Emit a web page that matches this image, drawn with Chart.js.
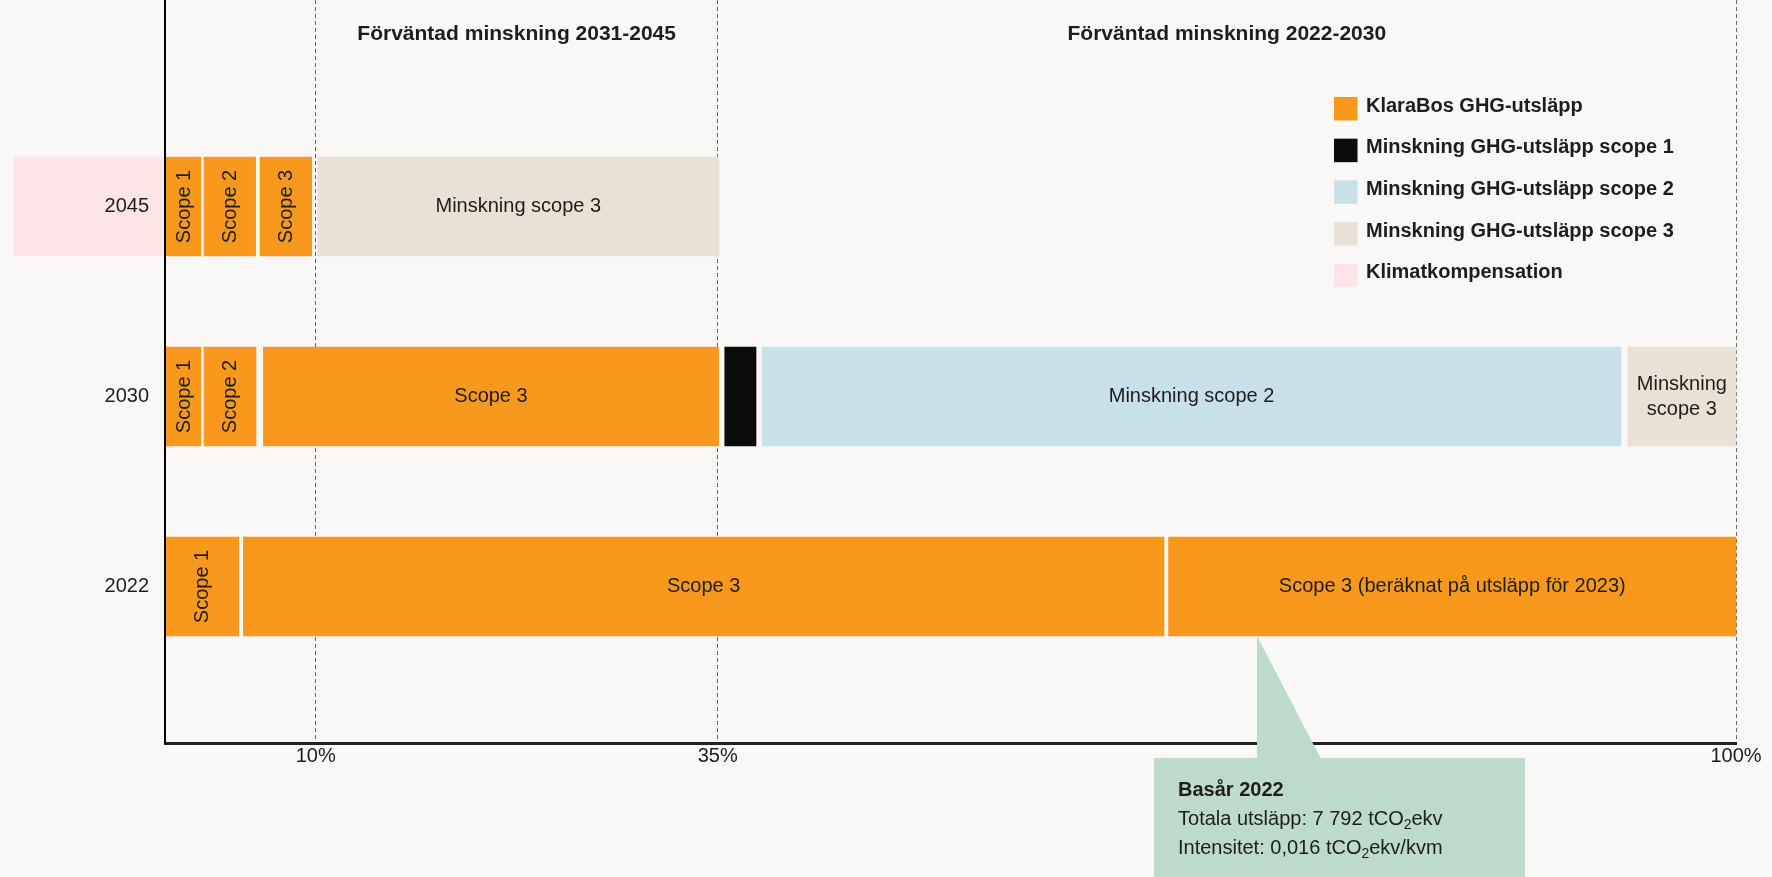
<!DOCTYPE html>
<html lang="sv">
<head>
<meta charset="utf-8">
<title>KlaraBo – minskning av GHG-utsläpp</title>
<script src="https://cdn.jsdelivr.net/npm/chart.js@4.4.1/dist/chart.umd.min.js"></script>
<style>
  html, body { margin: 0; padding: 0; background: #F9F8F6; }
  #wrap { width: 1772px; height: 877px; }
</style>
</head>
<body>
<div id="wrap"><canvas id="myChart" width="1772" height="877"></canvas></div>
<script>
// rows, top to bottom
const years = ['2045', '2030', '2022'];

// x axis ticks (schematic axis, the picture is not drawn to scale)
const tickValues = [9.59, 35.18, 100];
const tickLabels = ['10%', '35%', '100%'];
const periodTitles = ['Förväntad minskning 2031-2045', 'Förväntad minskning 2022-2030'];

// segments per row as [start, end], null = no segment in that row
const klaraScope1 = [[0, 2.29], [0, 2.29], [0, 4.70]];
const klaraScope2 = [[2.48, 5.77], [2.48, 5.79], null];
const klaraScope3 = [[6.05, 9.34], [6.26, 35.24], [4.99, 63.59]];
const klaraScope3b = [null, null, [63.88, 100]];
const minskScope1 = [null, [35.63, 37.62], null];
const minskScope2 = [null, [38.01, 92.68], null];
const minskScope3 = [[9.72, 35.26], [93.11, 100], null];
const kompensation = [[-9.61, -0.19], null, null];

// text inside the segments
const klaraScope1Text = ['Scope 1', 'Scope 1', 'Scope 1'];
const klaraScope2Text = ['Scope 2', 'Scope 2', ''];
const klaraScope3Text = ['Scope 3', 'Scope 3', 'Scope 3'];
const klaraScope3bText = ['', '', 'Scope 3 (beräknat på utsläpp för 2023)'];
const minskScope2Text = ['', 'Minskning scope 2', ''];
const minskScope3Text = ['Minskning scope 3', 'Minskning scope 3', ''];

const legendLabels = ['KlaraBos GHG-utsläpp', 'Minskning GHG-utsläpp scope 1', 'Minskning GHG-utsläpp scope 2', 'Minskning GHG-utsläpp scope 3', 'Klimatkompensation'];
const legendColors = ['#F8991E', '#0B0B0B', '#C8E0EA', '#E9E1D5', '#FDE4E8'];

// callout under the 2022 bar
const calloutAt = 69.51;
const calloutTitle = 'Basår 2022';
const calloutTotal = ['Totala utsläpp: 7 792 tCO', '2', 'ekv'];
const calloutIntensity = ['Intensitet: 0,016 tCO', '2', 'ekv/kvm'];

const FONT = '"Liberation Sans", Arial, Helvetica, sans-serif';
const TEXT = '#1d1d1b';

function rows(segs) {
    const out = [];
    segs.forEach((s, i) => { if (s) out.push({x: s, y: i}); });
    return out;
}

function makeSet(label, segs, color, texts) {
    return {
        label: label,
        data: rows(segs),
        backgroundColor: color,
        borderWidth: 0,
        barThickness: 99,
        grouped: false,
        clip: false,
        segmentText: texts || []
    };
}

// labels inside the bars
const barText = {
    id: 'barText',
    afterDatasetsDraw(chart) {
        const ctx = chart.ctx;
        chart.data.datasets.forEach((ds, di) => {
            const meta = chart.getDatasetMeta(di);
            meta.data.forEach((bar, j) => {
                const text = ds.segmentText[ds.data[j].y];
                if (!text) return;
                const p = bar.getProps(['x', 'y', 'base'], true);
                const w = Math.abs(p.x - p.base);
                const cx = Math.min(p.x, p.base) + w / 2;
                ctx.save();
                ctx.font = '20px ' + FONT;
                ctx.fillStyle = TEXT;
                ctx.textAlign = 'center';
                ctx.textBaseline = 'middle';
                if (w < 80) {
                    ctx.translate(cx, p.y);
                    ctx.rotate(-Math.PI / 2);
                    ctx.fillText(text, 0, 1);
                } else if (ctx.measureText(text).width > w - 10) {
                    const words = text.split(' ');
                    const lines = [];
                    let line = '';
                    words.forEach(wd => {
                        const test = line ? line + ' ' + wd : wd;
                        if (line && ctx.measureText(test).width > w - 10) { lines.push(line); line = wd; }
                        else line = test;
                    });
                    lines.push(line);
                    const lh = 25;
                    lines.forEach((l, k) => ctx.fillText(l, cx, p.y + (k - (lines.length - 1) / 2) * lh));
                } else {
                    ctx.fillText(text, cx, p.y);
                }
                ctx.restore();
            });
        });
    }
};

// period titles, legend and callout
const extras = {
    id: 'extras',
    afterDraw(chart) {
        const ctx = chart.ctx;
        const xs = chart.scales.x;
        const ys = chart.scales.y;
        const area = chart.chartArea;
        ctx.save();

        // titles between the dashed lines
        ctx.font = 'bold 21px ' + FONT;
        ctx.fillStyle = TEXT;
        ctx.textAlign = 'center';
        ctx.textBaseline = 'middle';
        periodTitles.forEach((t, i) => {
            const a = xs.getPixelForValue(tickValues[i]);
            const b = xs.getPixelForValue(tickValues[i + 1]);
            ctx.fillText(t, (a + b) / 2, area.top + 34);
        });

        // legend
        const lx = 1334, ly = 97, step = 41.67, box = 23.5;
        ctx.font = 'bold 20px ' + FONT;
        ctx.textAlign = 'left';
        ctx.textBaseline = 'alphabetic';
        legendLabels.forEach((l, i) => {
            const y = ly + i * step;
            ctx.fillStyle = legendColors[i];
            ctx.fillRect(lx, y, box, box);
            ctx.fillStyle = TEXT;
            ctx.fillText(l, lx + 32, y + 14.5);
        });

        // callout
        const ax = xs.getPixelForValue(calloutAt);
        const ay = ys.getPixelForValue(2) + 99 / 2;
        const top = area.bottom + 15;
        const left = ax - 103, right = ax + 268;
        ctx.fillStyle = '#BDDBCA';
        ctx.beginPath();
        ctx.moveTo(ax, ay);
        ctx.lineTo(ax + 64, top + 1);
        ctx.lineTo(ax, top + 1);
        ctx.closePath();
        ctx.fill();
        ctx.fillRect(left, top, right - left, chart.height - top);

        const tx = left + 24;
        ctx.fillStyle = TEXT;
        ctx.font = 'bold 20px ' + FONT;
        ctx.fillText(calloutTitle, tx, top + 38);
        [calloutTotal, calloutIntensity].forEach((parts, k) => {
            const by = top + 67 + k * 29;
            let x = tx;
            ctx.font = '20px ' + FONT;
            ctx.fillText(parts[0], x, by);
            x += ctx.measureText(parts[0]).width;
            ctx.font = '14px ' + FONT;
            ctx.fillText(parts[1], x, by + 4);
            x += ctx.measureText(parts[1]).width;
            ctx.font = '20px ' + FONT;
            ctx.fillText(parts[2], x, by);
        });
        ctx.restore();
    }
};

const ctx = document.getElementById('myChart').getContext('2d');

const myChart = new Chart(ctx, {
    type: 'bar',
    data: {
        datasets: [
            makeSet('Klimatkompensation', kompensation, legendColors[4]),
            makeSet('KlaraBos GHG-utsläpp', klaraScope1, legendColors[0], klaraScope1Text),
            makeSet('KlaraBos GHG-utsläpp', klaraScope2, legendColors[0], klaraScope2Text),
            makeSet('KlaraBos GHG-utsläpp', klaraScope3, legendColors[0], klaraScope3Text),
            makeSet('KlaraBos GHG-utsläpp', klaraScope3b, legendColors[0], klaraScope3bText),
            makeSet('Minskning GHG-utsläpp scope 1', minskScope1, legendColors[1]),
            makeSet('Minskning GHG-utsläpp scope 2', minskScope2, legendColors[2], minskScope2Text),
            makeSet('Minskning GHG-utsläpp scope 3', minskScope3, legendColors[3], minskScope3Text)
        ]
    },
    options: {
        indexAxis: 'y',
        responsive: false,
        devicePixelRatio: 1,
        animation: false,
        layout: { padding: { top: 0, right: 36, bottom: 0, left: 0 } },
        plugins: {
            legend: { display: false },
            tooltip: { enabled: false }
        },
        scales: {
            x: {
                type: 'linear',
                min: 0,
                max: 100,
                afterBuildTicks: (scale) => { scale.ticks = tickValues.map(v => ({value: v})); },
                afterFit: (scale) => { scale.height = 134; scale.paddingLeft = 0; scale.paddingRight = 0; },
                ticks: {
                    autoSkip: false,
                    maxRotation: 0,
                    padding: 1,
                    color: TEXT,
                    font: { family: FONT, size: 20 },
                    callback: (value, index) => tickLabels[index]
                },
                grid: { color: '#666', lineWidth: 1, drawTicks: false },
                border: { display: true, color: '#222', width: 3, dash: [4, 3] }
            },
            y: {
                type: 'linear',
                reverse: true,
                offset: false,
                min: -1.0868,
                max: 2.8237,
                afterBuildTicks: (scale) => { scale.ticks = years.map((_, i) => ({value: i})); },
                afterFit: (scale) => { scale.width = 165; scale.paddingTop = 0; scale.paddingBottom = 0; },
                ticks: {
                    autoSkip: false,
                    padding: 16,
                    z: 1,
                    color: TEXT,
                    font: { family: FONT, size: 20 },
                    callback: (value, index) => years[index]
                },
                grid: { display: false, drawTicks: false },
                border: { display: true, color: '#000', width: 2, z: 1 }
            }
        }
    },
    plugins: [barText, extras]
});
</script>
</body>
</html>
